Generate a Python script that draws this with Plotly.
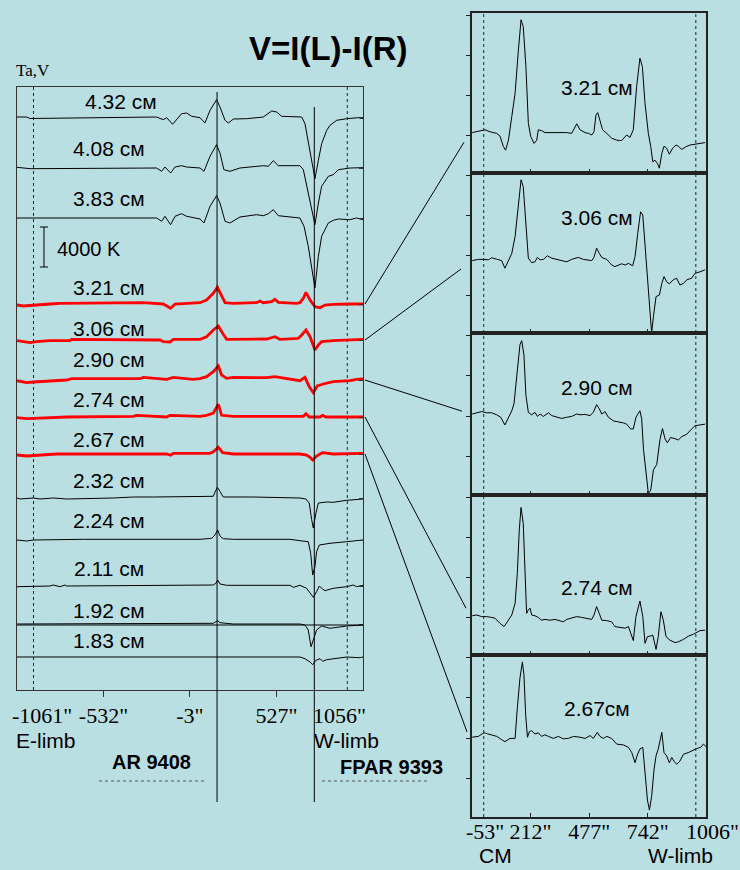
import plotly.graph_objects as go

# ---------------- data: left panel (position in arcsec, V in K relative to each trace's zero) -------------
labels_left = ["4.32 см", "4.08 см", "3.83 см", "3.21 см", "3.06 см", "2.90 см", "2.74 см",
               "2.67 см", "2.32 см", "2.24 см", "2.11 см", "1.92 см", "1.83 см"]
offsets_K = [57300, 52200, 47200, 38600, 35000, 31000, 27300, 23600, 19200, 15000, 10400, 6600, 3300]
label_y_K = [58800, 54200, 49200, 40300, 36200, 33100, 29100, 25100, 21000, 17000, 12200, 8000, 5000]
label_x_arcsec = [-425, -498, -498, -498, -498, -498, -498, -498, -498, -498, -498, -498, -498]
red_waves = ["3.21 см", "3.06 см", "2.90 см", "2.74 см", "2.67 см"]

x_432 = [-1061, -1002, -981, -207, -166, -145, -109, -84, -54, -23, 8, 59, 89, 120, 160, 181, 212, 232, 263, 344,
         446, 497, 528, 558, 681, 701, 732, 762, 783, 803, 834, 854, 895, 956, 1027, 1056]
k_432 = [0, 0, -150, 0, -270, -70, -730, -270, 330, 400, 70, -70, -600, 670, 1730, 1000, -330, -600, -200, -170,
         0, 600, 500, 70, 0, -670, -3330, -6170, -4330, -2670, -1330, -830, -330, -170, -70, -170]
x_408 = [-1061, -981, -207, -176, -156, -121, -94, -54, -23, 59, 83, 120, 160, 181, 205, 242, 303, 405, 446, 477,
         507, 538, 670, 691, 721, 762, 783, 803, 844, 874, 905, 976, 1056]
k_408 = [70, -70, 0, -330, 100, -500, 100, 230, 100, 0, -330, 1170, 2330, 1500, -170, -330, 0, 170, 230, 170,
         730, 230, 230, -170, -2500, -5670, -3500, -1830, -830, -670, -170, 0, 30]
x_383 = [-1061, -207, -176, -156, -121, -94, -54, -23, 59, 83, 120, 160, 181, 212, 242, 303, 405, 446, 477, 507,
         538, 670, 695, 721, 762, 783, 803, 844, 874, 905, 976, 1017, 1056]
k_383 = [0, 0, -330, 170, -670, 170, 430, 170, -100, -500, 1170, 2230, 1500, -330, -500, 100, 330, 230, 430, 830,
         230, 0, -830, -2830, -7000, -3830, -1830, -500, -230, -100, -170, 0, -170]
x_321 = [-1061, -1022, -859, -798, -288, -166, -145, -121, -94, 59, 99, 140, 165, 185, 212, 263, 405, 426, 446, 497,
         517, 538, 650, 670, 691, 707, 732, 762, 793, 823, 874, 976, 1056]
k_321 = [-100, -200, 0, 70, 130, 0, -200, -430, 0, 130, 400, 1070, 1670, 1070, 130, 70, 130, 300, 130, 230,
         470, 170, 70, 130, 570, 1170, 400, -270, -370, -100, -30, 0, 0]
x_306 = [-1061, -981, -941, -859, -737, -727, -186, -166, -125, -105, 59, 99, 140, 171, 197, 222, 467, 517, 548, 660,
         681, 707, 732, 748, 762, 783, 803, 874, 956, 1056]
k_306 = [-70, -270, -170, -70, -70, 70, 0, -170, -200, 70, 70, 330, 1000, 1400, 670, 70, 100, 330, 70, 170,
         500, 1000, 330, -500, -1000, -500, -170, -70, 0, 70]
x_290 = [-1061, -1002, -961, -757, -727, -308, -288, -145, -105, 18, 59, 99, 140, 171, 191, 222, 263, 467, 517, 589,
         670, 701, 727, 752, 776, 813, 874, 976, 1017, 1056]
k_290 = [-70, -270, -200, 0, 130, 130, 270, 70, 270, 70, 130, 330, 830, 1400, 500, 170, 270, 230, 330, 130,
         -70, 270, -670, -1270, -600, -400, -170, -70, 70, 100]
x_274 = [-1061, -1002, -961, -757, -349, -329, -145, -125, 59, 99, 140, 171, 191, 263, 467, 691, 707, 727, 793, 809,
         829, 956, 1056]
k_274 = [-70, -170, -130, 0, 70, 170, 0, 170, 70, 170, 400, 1270, 170, 70, 70, 70, 330, 0, 0, 170, 0, 0, 0]
x_267 = [-1061, -1002, -818, -145, -121, -105, 120, 140, 171, 197, 263, 670, 711, 732, 748, 768, 793, 809, 874, 976,
         1056]
k_267 = [-100, -200, 0, 0, -130, 70, 70, 230, 670, 130, 0, 0, -100, -330, -600, -270, 0, 130, 0, 70, 70]
x_232 = [-1061, -1043, -961, -920, -839, -757, -472, -349, -227, 140, 150, 165, 181, 201, 385, 670, 707, 727, 742, 752,
         768, 783, 834, 874, 956, 1056]
k_232 = [0, -100, 0, -100, 0, -100, 0, 100, 100, 170, 570, 1070, 670, 100, 100, 0, -100, -500, -2170, -3000,
         -1500, -500, -400, -430, -230, -100]
x_224 = [-1061, -1002, -961, -655, 59, 130, 150, 167, 181, 201, 263, 609, 670, 721, 736, 748, 762, 772, 789, 854,
         956, 1056]
k_224 = [0, -100, 0, 70, 70, 170, 500, 1000, 400, 130, 70, 70, -70, -170, -1330, -3500, -2670, -1170, -500, -330,
         -170, 0]
x_211 = [-1061, -859, -839, -798, -767, -757, 140, 156, 167, 181, 222, 609, 630, 670, 711, 742, 752, 772, 789, 803,
         823, 874, 956, 997, 1017, 1056]
k_211 = [-70, 0, 100, -70, 100, 0, 100, 270, 600, 200, 70, 70, -130, 70, -230, -900, -1130, -570, 0, -230,
         -470, -230, -70, 100, -70, 70]
x_192 = [-1061, -594, -574, 140, 156, 167, 181, 263, 670, 701, 721, 738, 752, 772, 803, 854, 956, 1056]
k_192 = [0, 0, 70, 70, 230, 330, 130, 0, 0, -100, -600, -2270, -1600, -600, -200, -430, -200, -100]
x_183 = [-1061, 140, 165, 181, 670, 701, 732, 748, 768, 793, 809, 834, 874, 956, 1037, 1056]
k_183 = [0, 0, 70, 0, 0, -170, -500, -770, -330, -170, -430, -270, -170, 0, -70, 0]

left_x = [x_432, x_408, x_383, x_321, x_306, x_290, x_274, x_267, x_232, x_224, x_211, x_192, x_183]
left_k = [k_432, k_408, k_383, k_321, k_306, k_290, k_274, k_267, k_232, k_224, k_211, k_192, k_183]

left_ticks = [-1061, -532, -3, 527, 1056]
left_ticktext = ['-1061"', '-532"', '-3"', '527"', '1056"']
limb_arcsec = 960
scale_K = 4000
ar_names = ["AR 9408", "FPAR 9393"]
ar_arcsec = [163, 758]

# ---------------- data: right panels (zoom, arbitrary units) ----------------
labels_right = ["3.21 см", "3.06 см", "2.90 см", "2.74 см", "2.67см"]
right_label_v = [1.2, 1.93, 1.7, 0.75, 1.73]
connector_v = [-0.18, 0.65, 1.12, 0.22, 1.15]

rx_321 = [-52, -17, 6, 29, 59, 74, 89, 99, 112, 127, 142, 157, 169, 179, 191, 202, 213, 228, 240, 247, 262, 277, 315,
          345, 376, 398, 409, 421, 436, 459, 474, 489, 499, 508, 516, 526, 538, 557, 579, 602, 624, 647, 662, 677, 692,
          707, 718, 730, 745, 756, 765, 775, 786, 795, 806, 816, 828, 840, 855, 870, 881, 896, 916, 934, 956, 979, 1002]
rv_321 = [0.06, 0.11, 0.13, 0.08, 0.04, -0.03, -0.29, -0.38, -0.13, 0.46, 1.04, 2.13, 2.88, 2.71, 1.71, 0.29, -0.04,
          -0.21, -0.13, 0.13, 0.11, 0.06, 0.06, 0.06, 0.06, 0.04, 0.17, 0.28, 0.13, 0.06, 0.04, 0.0, 0.08, 0.5, 0.56,
          0.38, 0.13, 0.04, -0.08, -0.13, -0.14, 0.0, -0.06, 0.13, 1.21, 1.92, 1.71, 0.79, 0.04, -0.29, -0.67, -0.63,
          -0.71, -0.83, -0.46, -0.28, -0.33, -0.48, -0.33, -0.25, -0.28, -0.36, -0.29, -0.25, -0.23, -0.21, -0.19]
rx_306 = [-52, -24, -2, 21, 36, 59, 81, 96, 112, 127, 142, 157, 169, 179, 191, 202, 217, 232, 243, 255, 270, 288, 308,
          330, 353, 376, 398, 428, 451, 474, 489, 499, 511, 523, 534, 557, 579, 594, 609, 624, 640, 655, 674, 685, 697,
          710, 720, 730, 741, 750, 760, 768, 780, 795, 806, 816, 828, 840, 858, 873, 888, 904, 919, 941, 956, 979, 1002]
rv_306 = [0.86, 0.89, 0.89, 0.88, 0.93, 0.89, 0.86, 0.67, 0.88, 1.04, 1.46, 2.21, 2.88, 2.71, 1.63, 0.92, 0.81, 0.83,
          0.94, 0.88, 0.89, 0.98, 0.92, 0.89, 0.86, 0.83, 0.89, 0.94, 0.89, 0.88, 0.86, 0.94, 1.17, 1.04, 0.94, 0.89,
          0.75, 0.71, 0.75, 0.78, 0.75, 0.79, 0.73, 0.96, 1.54, 2.08, 2.0, 1.21, 0.38, -0.38, -0.96, -0.54, -0.04, 0.0,
          0.29, 0.46, 0.33, 0.28, 0.38, 0.42, 0.25, 0.29, 0.38, 0.42, 0.54, 0.58, 0.63]
rx_290 = [-52, -24, -9, 13, 36, 59, 77, 96, 112, 127, 137, 149, 164, 172, 182, 191, 202, 217, 232, 243, 255, 270, 293,
          308, 330, 353, 376, 398, 421, 436, 459, 481, 496, 511, 523, 534, 549, 564, 587, 609, 632, 647, 665, 677, 689,
          707, 715, 723, 735, 745, 756, 768, 783, 798, 809, 821, 831, 846, 866, 881, 896, 919, 941, 956, 979, 1002]
rv_290 = [1.05, 1.08, 1.11, 1.08, 1.08, 1.03, 0.97, 0.78, 0.97, 1.13, 1.3, 1.93, 2.76, 2.86, 2.51, 1.51, 1.09, 1.03,
          1.09, 0.99, 1.05, 0.99, 1.08, 1.01, 0.97, 0.94, 0.97, 0.99, 1.05, 1.03, 1.04, 1.01, 1.09, 1.28, 1.18, 1.05,
          1.11, 0.97, 0.88, 0.86, 0.83, 0.8, 0.68, 0.68, 0.97, 1.13, 0.93, 0.18, -0.41, -0.91, -0.83, -0.33, -0.2,
          0.43, 0.69, 0.43, 0.34, 0.47, 0.44, 0.41, 0.49, 0.55, 0.68, 0.76, 0.78, 0.8]
rx_274 = [-52, -32, -9, 13, 36, 51, 74, 92, 107, 127, 142, 152, 161, 169, 179, 187, 194, 202, 210, 217, 232, 247, 262,
          277, 300, 323, 345, 360, 376, 398, 421, 443, 466, 489, 499, 511, 523, 534, 557, 579, 594, 617, 640, 655, 670,
          677, 689, 707, 720, 730, 741, 753, 765, 771, 780, 790, 802, 813, 825, 843, 866, 881, 904, 926, 949, 979, 1002]
rv_274 = [0.03, 0.05, 0.01, 0.01, -0.01, -0.03, -0.16, -0.24, -0.12, 0.05, 0.34, 1.09, 2.18, 2.74, 2.34, 1.09, 0.09,
          0.18, 0.22, 0.05, 0.03, -0.01, -0.08, -0.06, -0.08, -0.06, -0.09, -0.12, -0.06, -0.03, 0.01, -0.01, -0.03,
          -0.06, 0.05, 0.26, 0.09, -0.08, -0.09, -0.12, -0.24, -0.26, -0.28, -0.24, -0.49, -0.59, 0.01, 0.4, 0.01,
          -0.66, -0.49, -0.48, -0.45, -0.58, -0.81, -0.49, 0.13, -0.08, -0.49, -0.58, -0.64, -0.62, -0.56, -0.48,
          -0.43, -0.34, -0.33]
rx_267 = [-52, -24, 1, 29, 59, 81, 96, 119, 142, 152, 164, 175, 182, 190, 198, 207, 217, 232, 247, 262, 277, 293, 315,
          338, 360, 383, 406, 436, 459, 481, 496, 514, 526, 541, 557, 579, 602, 632, 655, 670, 685, 695, 707, 720, 730,
          741, 750, 760, 771, 780, 790, 806, 816, 828, 840, 851, 861, 873, 888, 904, 926, 949, 964, 982, 994, 1006]
rv_267 = [1.02, 1.04, 1.13, 1.08, 1.04, 0.96, 0.91, 0.99, 0.99, 1.73, 2.48, 2.88, 2.56, 1.56, 1.02, 1.16, 1.18, 1.1,
          1.13, 1.04, 1.08, 1.04, 0.99, 1.04, 0.98, 0.99, 1.04, 1.02, 0.99, 1.06, 0.99, 1.14, 1.04, 0.99, 1.04, 0.99,
          0.85, 0.83, 0.77, 0.64, 0.39, 0.58, 0.73, 0.77, 0.23, -0.53, -0.78, -0.44, 0.23, 0.56, 0.73, 1.14, 0.64,
          0.56, 0.39, 0.52, 0.43, 0.35, 0.43, 0.6, 0.64, 0.71, 0.74, 0.77, 0.85, 0.79]

right_x = [rx_321, rx_306, rx_290, rx_274, rx_267]
right_v = [rv_321, rv_306, rv_290, rv_274, rv_267]
right_ticks = [-53, 212, 477, 742, 1006]
right_ticktext = ['-53"', '212"', '477"', '742"', '1006"']
cm_arcsec = 0

# ---------------- layout geometry ----------------
W, H = 740, 870
BG = "#badfe3"
SANS = "Liberation Sans, Arial, sans-serif"
SERIF = "Liberation Serif, Times New Roman, serif"
LINE = "#333333"

def px_x(p):
    return p / W

def px_y(p):
    return 1 - p / H

L_DOM_X = [px_x(17), px_x(363)]
L_DOM_Y = [px_y(690), px_y(87)]
L_XR = [-1061, 1056]
L_YR = [0, 60300]
R_DOM_X = [px_x(472), px_x(706)]
R_XR = [-53, 1006]
R_YR = [-0.95, 3.05]
panel_px = [(13, 173), (173, 333), (333, 495), (495, 655), (655, 817)]
R_DOM_Y = [[px_y(b), px_y(t)] for t, b in panel_px]

fig = go.Figure()

# left panel traces
for i, name in enumerate(labels_left):
    red = name in red_waves
    fig.add_trace(go.Scatter(
        x=left_x[i], y=[offsets_K[i] + v for v in left_k[i]],
        mode="lines", line=dict(color="#ff0000" if red else "#000000", width=2.8 if red else 1),
        xaxis="x", yaxis="y", showlegend=False, hoverinfo="skip"))

# right panels
for j in range(5):
    ax = str(j + 2)
    fig.add_trace(go.Scatter(
        x=right_x[j], y=right_v[j], mode="lines", line=dict(color="#000000", width=1),
        xaxis="x" + ax, yaxis="y" + ax, showlegend=False, hoverinfo="skip"))

layout = dict(
    width=W, height=H, margin=dict(l=0, r=0, t=0, b=0),
    paper_bgcolor=BG, plot_bgcolor=BG, showlegend=False,
    font=dict(family=SANS, color="#000000"),
    xaxis=dict(domain=L_DOM_X, range=L_XR, anchor="y", showgrid=False, zeroline=False,
               showline=True, mirror=True, linecolor=LINE, linewidth=1,
               tickvals=left_ticks[1:4], ticktext=left_ticktext[1:4], ticks="outside", ticklen=6,
               tickcolor=LINE, tickfont=dict(family=SERIF, size=22, color="#000"), ticklabelstandoff=0),
    yaxis=dict(domain=L_DOM_Y, range=L_YR, anchor="x", side="right", showgrid=False, zeroline=False,
               showline=True, mirror=True, linecolor=LINE, linewidth=1,
               tickvals=offsets_K, ticks="inside", ticklen=4, tickcolor=LINE, showticklabels=False),
)
for j in range(5):
    ax = str(j + 2)
    bottom = (j == 4)
    layout["xaxis" + ax] = dict(
        domain=R_DOM_X, range=R_XR, anchor="y" + ax, showgrid=False, zeroline=False,
        showline=True, mirror=True, linecolor="#222222", linewidth=1.5,
        tickvals=right_ticks, ticktext=(["", '212"', '477"', '742"', ""] if bottom else None),
        showticklabels=bottom, ticks="inside", ticklen=4, tickcolor="#222",
        tickfont=dict(family=SERIF, size=22, color="#000"), ticklabelstandoff=-6)
    layout["yaxis" + ax] = dict(
        domain=R_DOM_Y[j], range=R_YR, anchor="x" + ax, showgrid=False, zeroline=False,
        showline=True, mirror=True, linecolor="#222222", linewidth=1.5,
        tickvals=[0, 1, 2, 3], ticks="outside", ticklen=4, tickcolor="#222", showticklabels=False)
fig.update_layout(**layout)

shapes = []
ann = []

def text(t, x, y, size, family=SANS, xref="paper", yref="paper", xanchor="center", xshift=0):
    ann.append(dict(text=t, xref=xref, yref=yref, x=x, y=y, xanchor=xanchor, yanchor="middle",
                    xshift=xshift, showarrow=False, font=dict(size=size, family=family, color="#000")))

# limb dotted lines (left panel)
for xv in (-limb_arcsec, limb_arcsec):
    shapes.append(dict(type="line", xref="x", yref="paper", x0=xv, x1=xv, y0=L_DOM_Y[0], y1=L_DOM_Y[1],
                       line=dict(color="#222", width=1, dash="dot")))
# AR vertical lines
ar_top_px = [92, 107]
for xv, tp in zip(ar_arcsec, ar_top_px):
    shapes.append(dict(type="line", xref="x", yref="paper", x0=xv, x1=xv, y0=px_y(802), y1=px_y(tp),
                       line=dict(color="#000", width=1)))
# zero line under 1.92 cm trace
shapes.append(dict(type="line", xref="x", yref="y", x0=L_XR[0], x1=L_XR[1],
                   y0=offsets_K[11] - 100, y1=offsets_K[11] - 100, line=dict(color="#000", width=1)))
# scale bar
bar_x = -896
bar_y0 = 42300
shapes.append(dict(type="line", xref="x", yref="y", x0=bar_x, x1=bar_x, y0=bar_y0, y1=bar_y0 + scale_K,
                   line=dict(color="#000", width=1)))
for yy in (bar_y0, bar_y0 + scale_K):
    shapes.append(dict(type="line", xref="x", yref="y", x0=bar_x - 25, x1=bar_x + 25, y0=yy, y1=yy,
                       line=dict(color="#000", width=1)))
text(f"{scale_K} K", -829, bar_y0 + scale_K / 2 - 200, 20, xref="x", yref="y", xanchor="left")

# right panel dotted lines
for j in range(5):
    ax = str(j + 2)
    for xv in (cm_arcsec, limb_arcsec):
        shapes.append(dict(type="line", xref="x" + ax, yref="y" + ax + " domain", x0=xv, x1=xv, y0=0, y1=1,
                           line=dict(color="#222", width=1, dash="dot")))

# connectors
def left_paper_y(k):
    return L_DOM_Y[0] + (k - L_YR[0]) / (L_YR[1] - L_YR[0]) * (L_DOM_Y[1] - L_DOM_Y[0])

def right_paper_y(j, v):
    d0, d1 = R_DOM_Y[j]
    return d0 + (v - R_YR[0]) / (R_YR[1] - R_YR[0]) * (d1 - d0)

conn_end_px = [464, 461, 462, 466, 467]
for j in range(5):
    shapes.append(dict(type="line", xref="paper", yref="paper",
                       x0=px_x(365), y0=left_paper_y(offsets_K[3 + j]),
                       x1=px_x(conn_end_px[j]), y1=right_paper_y(j, connector_v[j]),
                       line=dict(color="#000", width=1)))

# dotted underlines of AR labels
for x0p, x1p in ((99, 207), (322, 430)):
    shapes.append(dict(type="line", xref="paper", yref="paper", x0=px_x(x0p), x1=px_x(x1p),
                       y0=px_y(781), y1=px_y(781), line=dict(color="#555", width=1, dash="dot")))

# labels left
for i, name in enumerate(labels_left):
    text(name, label_x_arcsec[i], label_y_K[i], 21, xref="x", yref="y")
# labels right
for j, name in enumerate(labels_right):
    ax = str(j + 2)
    text(name, 513, right_label_v[j], 21, xref="x" + ax, yref="y" + ax)

# edge tick labels
text(left_ticktext[0], left_ticks[0], px_y(715), 22, family=SERIF, xref="x", xanchor="left", xshift=-7)
text(left_ticktext[4], left_ticks[4], px_y(715), 22, family=SERIF, xref="x", xanchor="right", xshift=5)
text(right_ticktext[0], right_ticks[0], px_y(831), 22, family=SERIF, xref="x6", xshift=13)
text(right_ticktext[4], right_ticks[4], px_y(831), 22, family=SERIF, xref="x6", xshift=6)

# other text
text("<b>V=I(L)-I(R)</b>", px_x(328), px_y(48), 33)
text("Ta,V", px_x(33), px_y(71), 17, family=SERIF)
text("E-limb", px_x(46), px_y(740), 21)
text("W-limb", px_x(346), px_y(740), 21)
text("<b>" + ar_names[0] + "</b>", px_x(151), px_y(762), 20)
text("<b>" + ar_names[1] + "</b>", px_x(391), px_y(767), 20)
text("CM", px_x(495), px_y(855), 21)
text("W-limb", px_x(680), px_y(855), 21)

fig.update_layout(shapes=shapes, annotations=ann)
fig.write_html("out.html")
